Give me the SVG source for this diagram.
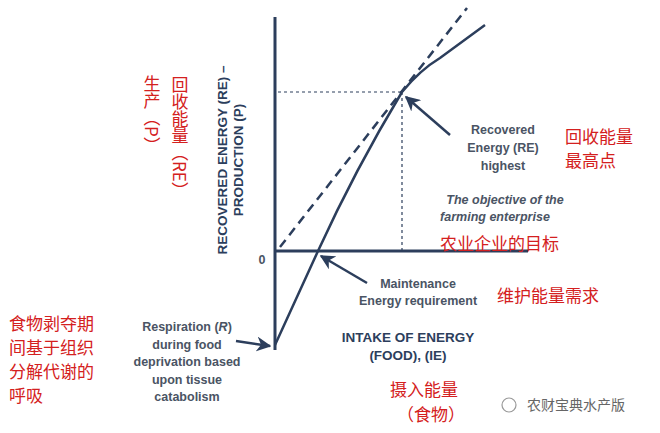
<svg xmlns="http://www.w3.org/2000/svg" width="660" height="433" viewBox="0 0 660 433">
<style>
.ax{stroke:#2c3e5c;stroke-width:3;fill:none}
.ln{stroke:#2c3e5c;stroke-width:2.5;fill:none}
.ds{stroke:#2c3e5c;stroke-width:1.2;fill:none;stroke-dasharray:3,3}
.dl{stroke:#2c3e5c;stroke-width:2.5;fill:none;stroke-dasharray:9,6}
.en{font-family:"Liberation Sans",Arial,sans-serif;font-weight:bold;fill:#4a5464;font-size:12.5px;text-anchor:middle}
.ax-t{font-family:"Liberation Sans",Arial,sans-serif;font-weight:bold;fill:#2c3e5c;font-size:13.5px;text-anchor:middle}
.cn{font-family:"Noto Sans CJK SC",sans-serif;fill:#d42020;font-size:17px}
</style>
<defs><marker id="ar" viewBox="0 0 10 10" refX="9" refY="5" markerWidth="6" markerHeight="6" orient="auto"><path d="M0,0 L10,5 L0,10 L3,5z" fill="#2c3e5c"/></marker></defs>
<rect width="660" height="433" fill="#fff"/>
<g id="connectors">
<line class="ax" x1="275" y1="17" x2="275" y2="350"/>
<line class="ax" x1="275" y1="251" x2="528" y2="251"/>
<line class="dl" x1="280" y1="247" x2="467" y2="8"/>
<line class="ds" x1="278" y1="92" x2="402" y2="92"/>
<line class="ds" x1="402" y1="92" x2="402" y2="251"/>
<path class="ln" d="M275,345 L318,251 Q355,170 402,92 Q420,70 440,58 L485,25"/>
<line class="ln" x1="450" y1="135" x2="406" y2="97" marker-end="url(#ar)"/>
<line class="ln" x1="367" y1="283" x2="321" y2="256" marker-end="url(#ar)"/>
<line class="ln" x1="236" y1="341" x2="270" y2="346" marker-end="url(#ar)"/>
</g>
<g id="labels">
<text class="ax-t" transform="translate(227,160) rotate(-90)">RECOVERED ENERGY (RE) –</text>
<text class="ax-t" transform="translate(243,160) rotate(-90)">PRODUCTION (P)</text>
<text class="en" x="262" y="264">0</text>
<text class="cn" x="180" y="76" writing-mode="tb">回收能量（RE）</text>
<text class="cn" x="152" y="75" writing-mode="tb">生产（P）</text>
<text class="en" x="503" y="134">Recovered</text>
<text class="en" x="503" y="152">Energy (RE)</text>
<text class="en" x="503" y="170">highest</text>
<text class="cn" x="565" y="143">回收能量</text>
<text class="cn" x="565" y="167">最高点</text>
<text class="en" x="505" y="204" font-style="italic">The objective of the</text>
<text class="en" x="495" y="221" font-style="italic">farming enterprise</text>
<text class="cn" x="440" y="250">农业企业的目标</text>
<text class="en" x="418" y="288">Maintenance</text>
<text class="en" x="418" y="305">Energy requirement</text>
<text class="cn" x="497" y="302">维护能量需求</text>
<text class="ax-t" x="408" y="342">INTAKE OF ENERGY</text>
<text class="ax-t" x="408" y="360">(FOOD), (IE)</text>
<text class="cn" x="390" y="396">摄入能量</text>
<text class="cn" x="397" y="421">（食物）</text>
<text class="en" x="187" y="331">Respiration (<tspan font-style="italic">R</tspan>)</text>
<text class="en" x="187" y="349">during food</text>
<text class="en" x="187" y="366">deprivation based</text>
<text class="en" x="187" y="384">upon tissue</text>
<text class="en" x="187" y="401">catabolism</text>
<text class="cn" x="9" y="330">食物剥夺期</text>
<text class="cn" x="9" y="354">间基于组织</text>
<text class="cn" x="9" y="378">分解代谢的</text>
<text class="cn" x="9" y="402">呼吸</text>
<text x="527" y="410" font-family="Noto Sans CJK SC,sans-serif" font-size="14" fill="#666">农财宝典水产版</text>
<circle cx="509" cy="405" r="7" fill="none" stroke="#999" stroke-width="1.2"/>
</g>
</svg>
